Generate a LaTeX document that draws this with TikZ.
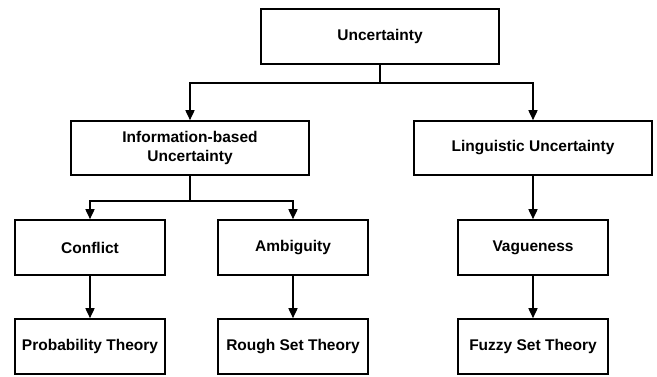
\documentclass[tikz,border=0pt]{standalone}
\usepackage{fontspec}
\setmainfont{Liberation Sans}
\usetikzlibrary{arrows.meta}
\begin{document}
\begin{tikzpicture}[x=1pt,y=-1pt,
  box/.style={draw=black,line width=1.6pt,inner sep=0pt,align=center,
    font=\fontsize{15.5}{18.5}\selectfont\bfseries},
  conn/.style={line width=1.6pt,-{Triangle[width=9pt,length=10pt]}},
  plain/.style={line width=1.6pt}]
\useasboundingbox (0,0) rectangle (657,376);
\fill[white] (0,0) rectangle (657,376);
\node[box,minimum width=238pt,minimum height=55pt] (unc) at (380,36.5) {Uncertainty};
\node[box,minimum width=238pt,minimum height=54pt] (info) at (190,148) {Information-based\\Uncertainty};
\node[box,minimum width=238pt,minimum height=54pt] (ling) at (533,148) {Linguistic Uncertainty};
\node[box,minimum width=150pt,minimum height=55pt] (conf) at (90,247.5) {Conflict};
\node[box,minimum width=150pt,minimum height=55pt] (amb) at (293,247.5) {Ambiguity};
\node[box,minimum width=150pt,minimum height=55pt] (vag) at (533,247.5) {Vagueness};
\node[box,minimum width=150pt,minimum height=55pt] (prob) at (90,346.5) {Probability Theory};
\node[box,minimum width=150pt,minimum height=55pt] (rough) at (293,346.5) {Rough Set Theory};
\node[box,minimum width=150pt,minimum height=55pt] (fuzzy) at (533,346.5) {Fuzzy Set Theory};
\coordinate (j1) at (380,83);
\coordinate (j2) at (190,201);
\draw[plain] (unc.south) -- (j1);
\draw[conn] (j1) -| (info.north);
\draw[conn] (j1) -| (ling.north);
\draw[plain] (info.south) -- (j2);
\draw[conn] (j2) -| (conf.north);
\draw[conn] (j2) -| (amb.north);
\draw[conn] (ling) -- (vag);
\draw[conn] (conf) -- (prob);
\draw[conn] (amb) -- (rough);
\draw[conn] (vag) -- (fuzzy);
\end{tikzpicture}
\end{document}
